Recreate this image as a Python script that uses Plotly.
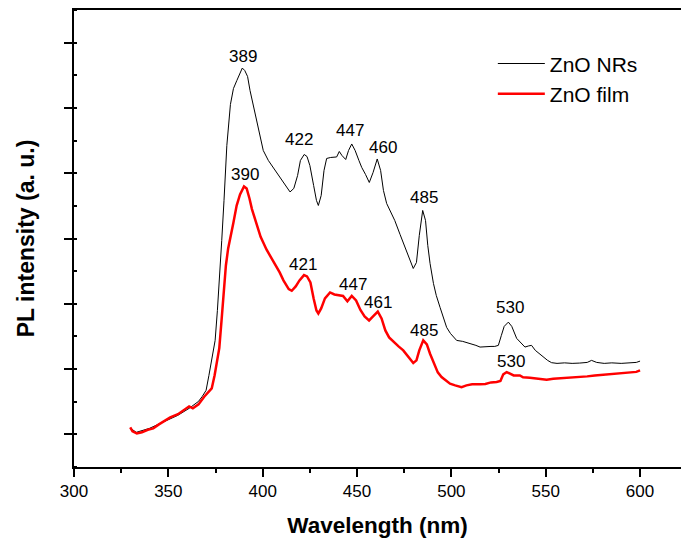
import numpy as np
import plotly.graph_objects as go

# ---- data ----
nrs_wl = [330, 333, 340, 348, 355, 361, 366, 368, 370, 371.5, 373, 374.8, 376, 377.2, 378.3, 379.5, 381, 382.9,
          384.5, 386.3, 388, 389.2, 390.5, 392, 393.3, 395, 396.5, 397.7, 399, 400.3, 403, 406, 409.2, 412,
          414.5, 416.5, 418.5, 420, 422, 423.5, 425, 427, 428.5, 429.5, 431, 432.5, 433.9, 436, 438, 439.2,
          440.6, 442, 444, 445.5, 447.2, 449, 451, 452.5, 454.5, 456.5, 458.5, 460.7, 462.5, 464, 465.7,
          467.5, 470, 472.8, 475, 477.5, 479.8, 481.5, 483, 484.8, 486.3, 487.5, 488.7, 490.5, 492, 494, 496,
          497.5, 499.5, 502.8, 506, 510, 513, 515.2, 518, 521, 523, 524.9, 526.5, 528, 530.2, 532, 534.6, 537,
          539, 541, 542.5, 544.5, 546.5, 548.7, 551, 553.1, 556, 560, 564, 568, 572, 574.3, 577, 581, 585,
          590, 595, 598, 600]
nrs_int = [92, 31, 92, 199, 291, 398, 505, 582, 674, 903, 1133, 1439, 1898, 2388, 2970, 3583, 4425, 5052,
           5297, 5420, 5542, 5611, 5573, 5481, 5266, 5037, 4838, 4654, 4532, 4348, 4195, 4072, 3935, 3827,
           3713, 3767, 3965, 4195, 4287, 4256, 4118, 3812, 3583, 3506, 3659, 4042, 4226, 4241, 4241, 4249,
           4333, 4272, 4210, 4348, 4448, 4348, 4195, 4088, 3981, 3858, 4011, 4218, 4042, 3736, 3537,
           3430, 3276, 3062, 2894, 2695, 2541, 2633, 3047, 3430, 3276, 2894, 2618, 2312, 2128, 1945, 1776,
           1638, 1546, 1439, 1424, 1393, 1363, 1337, 1347, 1347, 1347, 1363, 1516, 1654, 1719, 1654, 1470, 1393,
           1337, 1355, 1363, 1286, 1240, 1184, 1133, 1098, 1087, 1095, 1087, 1092, 1102, 1133, 1102, 1087, 1095,
           1087, 1095, 1102, 1122]

film_wl = [329.8, 331, 333.3, 336, 339.1, 342, 345, 348.2, 351, 355.1, 358, 361, 363, 366, 369, 371, 373, 374.5,
           376, 377, 378.2, 379.3, 380.5, 381.7, 382.8, 384.5, 386.2, 388, 390.1, 391.5, 393, 394.3, 396.5,
           398.9, 402, 405, 406.9, 409, 411, 413.8, 415.4, 417.5, 419.5, 421.9, 423.5, 425.3, 427, 428.5,
           429.5, 431, 433, 435.7, 438, 440.5, 442.6, 444.9, 447.2, 449.5, 451.8, 454, 456.4, 458.5, 461, 463,
           465, 467, 469.5, 472, 474.5, 477, 479.8, 481.5, 483, 485.1, 487, 488.7, 491, 492.8, 494.8, 497,
           499.3, 502, 505.4, 508, 511, 515.2, 518, 521, 524, 526, 527.5, 529.3, 531, 533, 536.3, 538, 541.6,
           544, 547, 550.5, 554, 558, 562, 568.2, 572, 576, 580, 585.8, 590, 594, 598, 600]
film_int = [107, 46, 15, 31, 70, 92, 153, 204, 260, 309, 367, 429, 398, 459, 576, 643, 704, 903,
            1133, 1321, 1745, 2120, 2587, 2848, 3025, 3246, 3504, 3674, 3797, 3766, 3613, 3451, 3246,
            3025, 2832, 2679, 2598, 2480, 2358, 2226, 2200, 2266, 2358, 2439, 2419, 2327, 2082, 1898,
            1852, 1929, 2082, 2174, 2143, 2128, 2120, 2039, 2120, 2052, 1906, 1807, 1745, 1807, 1880, 1776,
            1592, 1485, 1409, 1347, 1286, 1194, 1092, 1133, 1286, 1439, 1378, 1235, 1072, 949, 877, 827,
            776, 750, 724, 750, 766, 766, 773, 796, 801, 819, 919, 954, 934, 903, 903, 873, 868,
            857, 850, 837, 850, 857, 865, 877, 888, 903, 911, 929, 934, 949, 957, 980]

nrs_peaks = ["389", "422", "447", "460", "485", "530"]
film_peaks = ["390", "421", "447", "461", "485", "530"]

series_names = ["ZnO NRs", "ZnO film"]

FONT = "Arial, Liberation Sans, sans-serif"

fig = go.Figure()
fig.add_trace(go.Scatter(x=nrs_wl, y=nrs_int, mode="lines", name=series_names[0],
                         line=dict(color="black", width=1)))
fig.add_trace(go.Scatter(x=film_wl, y=film_int, mode="lines", name=series_names[1],
                         line=dict(color="#ff0000", width=2.5)))

# peak labels: placed above the local maximum of each series near the labelled wavelength
nrs_xshift = [1, -5, -1, 7, 1, 2]
film_xshift = [1, 1, 2, 0, 1, 3]
nrs_gap = [4, 7, 6, 4, 5, 7]
film_gap = [4, 3, 4, 2, 2, 3]


def add_labels(wl, inten, labels, xshifts, gaps):
    wl = np.asarray(wl, float)
    inten = np.asarray(inten, float)
    for lab, xs, g in zip(labels, xshifts, gaps):
        p = float(lab)
        m = (wl >= p - 3) & (wl <= p + 3)
        yv = inten[m].max()
        fig.add_annotation(x=p, y=yv, text=lab, showarrow=False, xanchor="center", yanchor="bottom",
                           xshift=xs, yshift=g - 4, font=dict(family=FONT, size=17, color="black"))


add_labels(nrs_wl, nrs_int, nrs_peaks, nrs_xshift, nrs_gap)
add_labels(film_wl, film_int, film_peaks, film_xshift, film_gap)

fig.update_layout(
    width=681, height=545,
    margin=dict(l=74, r=0, t=10, b=78),
    paper_bgcolor="white", plot_bgcolor="white",
    showlegend=True,
    legend=dict(x=0.690, y=0.927, xanchor="left", yanchor="top", bgcolor="rgba(0,0,0,0)",
                font=dict(family=FONT, size=21, color="black"), itemwidth=47, tracegroupgap=0),
    font=dict(family=FONT, color="black"),
)
fig.update_xaxes(range=[300, 621.7], showgrid=False, zeroline=False, automargin=False,
                 showline=True, linecolor="black", linewidth=2, mirror=True,
                 ticks="outside", ticklen=8, tickwidth=2, tickcolor="black",
                 tick0=300, dtick=50,
                 minor=dict(ticks="outside", ticklen=4, tickwidth=1.5, tickcolor="black", dtick=25),
                 tickfont=dict(family=FONT, size=17, color="black"),
                 title=dict(text="<b>Wavelength (nm)</b>", font=dict(family=FONT, size=22.5, color="black"),
                            standoff=17))
fig.update_yaxes(range=[-500, 6500], showgrid=False, zeroline=False, automargin=False,
                 showline=True, linecolor="black", linewidth=2, mirror=False,
                 ticks="outside", ticklen=8, tickwidth=2, tickcolor="black",
                 tick0=0, dtick=1000, showticklabels=False,
                 minor=dict(ticks="inside", ticklen=3, tickwidth=1.5, tickcolor="black", dtick=500),
                 title=dict(text="<b>PL intensity (a. u.)</b>", font=dict(family=FONT, size=23, color="black"),
                            standoff=23))

fig.write_html("out.html", config={"displayModeBar": False},
               post_script="document.body.style.margin='0';document.body.style.overflow='hidden';")
